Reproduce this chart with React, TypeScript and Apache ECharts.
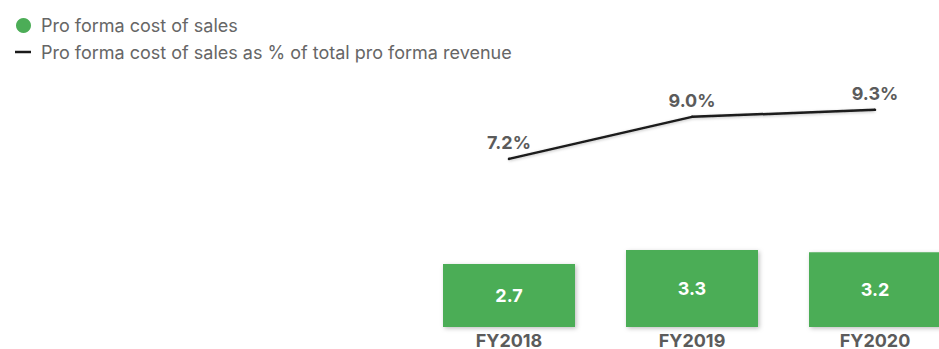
import React, { useEffect, useRef } from "react";
import * as echarts from "echarts";

const categories = ["FY2018", "FY2019", "FY2020"];
const costOfSales = [2.7, 3.3, 3.2];
const costPctOfRevenue = [7.2, 9.0, 9.3];
const legendLabels = [
  "Pro forma cost of sales",
  "Pro forma cost of sales as % of total pro forma revenue",
];

const GREEN = "#4CAD57";
const GREY = "#5b5b5b";
const LEGEND_GREY = "#666666";
const LINE = "#1a1a1a";
const FONT = "Inter, 'Noto Sans', sans-serif";

export default function App() {
  const ref = useRef<HTMLDivElement>(null);

  useEffect(() => {
    if (!ref.current) return;
    const chart = echarts.init(ref.current, undefined, { renderer: "svg" });
    chart.setOption({
      animation: false,
      textStyle: { fontFamily: FONT },
      // the last category runs past the visible edge, so the canvas is wider than the frame
      grid: { left: 417.5, top: 93.5, width: 549, height: 234 },
      xAxis: {
        type: "category",
        data: categories,
        axisLine: { show: false },
        axisTick: { show: false },
        axisLabel: {
          color: GREY,
          fontSize: 18,
          fontWeight: "bold",
          fontFamily: FONT,
          margin: 4,
        },
      },
      yAxis: {
        type: "value",
        min: 0,
        max: 10,
        show: false,
        splitLine: { show: false },
      },
      graphic: [
        {
          type: "circle",
          shape: { cx: 23.5, cy: 25.5, r: 7.5 },
          style: { fill: GREEN },
        },
        {
          type: "text",
          x: 41,
          y: 25.5,
          style: {
            text: legendLabels[0],
            fill: LEGEND_GREY,
            font: `18px ${FONT}`,
            verticalAlign: "middle",
          },
        },
        {
          type: "line",
          shape: { x1: 15, y1: 52, x2: 31, y2: 52 },
          style: { stroke: LINE, lineWidth: 2.5 },
        },
        {
          type: "text",
          x: 41,
          y: 52,
          style: {
            text: legendLabels[1],
            fill: LEGEND_GREY,
            font: `18px ${FONT}`,
            verticalAlign: "middle",
          },
        },
      ],
      series: [
        {
          name: legendLabels[0],
          type: "bar",
          data: costOfSales,
          barWidth: 132,
          itemStyle: {
            color: GREEN,
            shadowBlur: 4,
            shadowOffsetX: 1.5,
            shadowOffsetY: 1.5,
            shadowColor: "rgba(0,0,0,0.25)",
          },
          label: {
            show: true,
            position: "inside",
            color: "#ffffff",
            fontSize: 18,
            fontWeight: "bold",
            fontFamily: FONT,
            formatter: (p: any) => p.value.toFixed(1),
          },
        },
        {
          name: legendLabels[1],
          type: "line",
          data: costPctOfRevenue,
          symbol: "circle",
          symbolSize: 2.5,
          showSymbol: true,
          itemStyle: { color: LINE },
          lineStyle: {
            color: LINE,
            width: 2.5,
            shadowBlur: 3,
            shadowOffsetY: 1,
            shadowColor: "rgba(0,0,0,0.25)",
          },
          label: {
            show: true,
            position: "top",
            distance: 6,
            color: GREY,
            fontSize: 18,
            fontWeight: "bold",
            fontFamily: FONT,
            formatter: (p: any) => p.value.toFixed(1) + "%",
          },
        },
      ],
    });
    return () => chart.dispose();
  }, []);

  return (
    <div
      style={{
        position: "fixed",
        left: 0,
        top: 0,
        width: 939,
        height: 349,
        overflow: "hidden",
        background: "#fff",
      }}
    >
      <div ref={ref} style={{ width: 980, height: 349 }} />
    </div>
  );
}
